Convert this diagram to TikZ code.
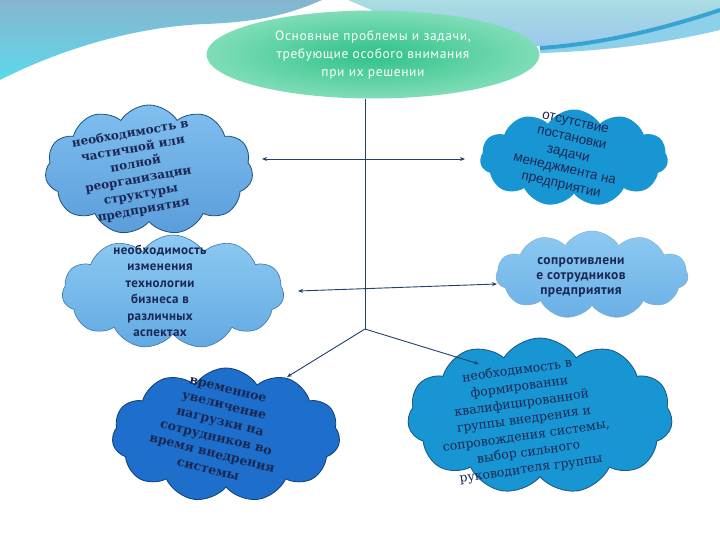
\documentclass[tikz,border=0pt]{standalone}
\usepackage{fontspec}
\setmainfont{DejaVu Serif}
\newfontfamily\ptsans[LetterSpace=3]{PT Sans}
\newfontfamily\titlefont[LetterSpace=4.5]{PT Sans}
\newfontfamily\libsans{Liberation Sans}
\usetikzlibrary{shapes.symbols,shapes.geometric,arrows.meta}
\definecolor{navy}{HTML}{1B2753}
\definecolor{linecol}{HTML}{24406A}
\definecolor{skytop}{HTML}{86B5CE}
\definecolor{skybot}{HTML}{5CD9EB}
\definecolor{tealtop}{HTML}{A9DDE2}
\definecolor{tealbot}{HTML}{9CC7EC}
\definecolor{stripe}{HTML}{36A3D3}
\definecolor{stripelt}{HTML}{8DD0E9}
\definecolor{ellin}{HTML}{2FC287}
\definecolor{ellout}{HTML}{7FDDB8}
\definecolor{ltop}{HTML}{80BFEF}
\definecolor{lbot}{HTML}{5A9DDA}
\definecolor{ledge}{HTML}{1E4F80}
\definecolor{bright}{HTML}{1896D4}
\definecolor{brightedge}{HTML}{1A5B8C}
\definecolor{mtop}{HTML}{8DCAF3}
\definecolor{mbot}{HTML}{62A9E2}
\definecolor{medge}{HTML}{3B76AC}
\definecolor{dark}{HTML}{1D6FCB}
\definecolor{darkedge}{HTML}{16447E}
\begin{document}
\begin{tikzpicture}[x=1pt,y=-1pt,
  cloudbox/.style={cloud, cloud puffs=11, cloud puff arc=115, cloud ignores aspect, inner sep=0pt},
  conn/.style={draw=linecol, line width=0.9pt},
  tip/.style={-{Stealth[length=5pt,width=4pt]}},
  dtip/.style={{Stealth[length=5pt,width=4pt]}-{Stealth[length=5pt,width=4pt]}},
  txt/.style={align=center, text=navy, inner sep=0pt}
]
\useasboundingbox (0,0) rectangle (720,540);
\fill[white] (0,0) rectangle (720,540);
% background swooshes
\shade[top color=skytop, bottom color=skybot] (0,0) -- (322,0) .. controls (292,13) and (262,22) .. (205,24) .. controls (130,27) and (55,52) .. (0,80) -- cycle;
\shade[top color=tealtop, bottom color=tealbot] (348,0) -- (720,0) -- (720,8) .. controls (660,28) and (600,42) .. (540,46) .. controls (450,48) and (400,22) .. (348,0) -- cycle;
\fill[stripelt] (720,8) .. controls (660,28) and (600,42) .. (540,46) -- (540,53) .. controls (610,51) and (670,42) .. (720,30) -- cycle;
\draw[stripe, line width=4pt] (720,10) .. controls (660,30) and (600,44) .. (540,48);

% title
\node[ellipse, minimum width=333pt, minimum height=88pt, inner color=ellin, outer color=ellout, text=white, align=center, font=\titlefont\fontsize{13.5}{18}\selectfont, inner sep=0pt] (title) at (373,54.5)
  {Основные проблемы и задачи,\\требующие особого внимания\\при их решении};

% clouds
\node[cloudbox, minimum width=208pt, minimum height=130pt, top color=ltop, bottom color=lbot, draw=ledge, line width=0.8pt] (c1) at (149,170) {};
\node[cloudbox, minimum width=188pt, minimum height=97pt, fill=bright] (c2) at (574,158) {};
\node[cloudbox, minimum width=222pt, minimum height=114pt, top color=mtop, bottom color=mbot, draw=medge, line width=0.6pt] (c3) at (173,292) {};
\node[cloudbox, minimum width=192pt, minimum height=88pt, top color=mtop, bottom color=mbot!80!mtop, draw=medge!60, line width=0.5pt] (c4) at (592,275) {};
\node[cloudbox, minimum width=228pt, minimum height=134pt, fill=dark, draw=darkedge, line width=0.9pt] (c5) at (226,435) {};
\node[cloudbox, minimum width=265pt, minimum height=156pt, fill=bright, draw=brightedge, line width=0.9pt] (c6) at (540,416) {};

% texts
\node[txt, rotate=10, font=\bfseries\fontsize{12}{15.5}\selectfont] (t1) at (137,172)
  {необходимость в\\частичной или\\полной\\реорганизации\\структуры\\предприятия};
\node[txt, rotate=-13, font=\libsans\fontsize{13.5}{16}\selectfont] (t2) at (568,155)
  {отсутствие\\постановки\\задачи\\менеджмента на\\предприятии};
\node[txt, font=\ptsans\bfseries\fontsize{13}{16.5}\selectfont] (t3) at (160,291)
  {необходимость\\изменения\\технологии\\бизнеса в\\различных\\аспектах};
\node[txt, font=\ptsans\bfseries\fontsize{13.5}{15}\selectfont] (t4) at (581,277)
  {сопротивлени\\е сотрудников\\предприятия};
\node[txt, rotate=-14, font=\bfseries\fontsize{12.5}{16.5}\selectfont] (t5) at (218,430)
  {временное\\увеличение\\нагрузки на\\сотрудников во\\время внедрения\\системы};
\node[txt, rotate=8, font=\fontsize{12.5}{16.5}\selectfont] (t6) at (524,420)
  {необходимость в\\формировании\\квалифицированной\\группы внедрения и\\сопровождения системы,\\выбор сильного\\руководителя группы};

% connector points
\coordinate (hub) at (365,329);
\coordinate (a1) at (262,159);
\coordinate (b1) at (465,159);
\coordinate (a2) at (298,291);
\coordinate (b2) at (497,284);
\coordinate (a3) at (287,377);
\coordinate (b3) at (479,364);

\draw[conn] (title.south -| hub) -- (hub);
\draw[conn, dtip] (a1) -- (b1);
\draw[conn, dtip] (a2) -- (b2);
\draw[conn, tip] (hub) -- (a3);
\draw[conn, tip] (hub) -- (b3);
\end{tikzpicture}
\end{document}
